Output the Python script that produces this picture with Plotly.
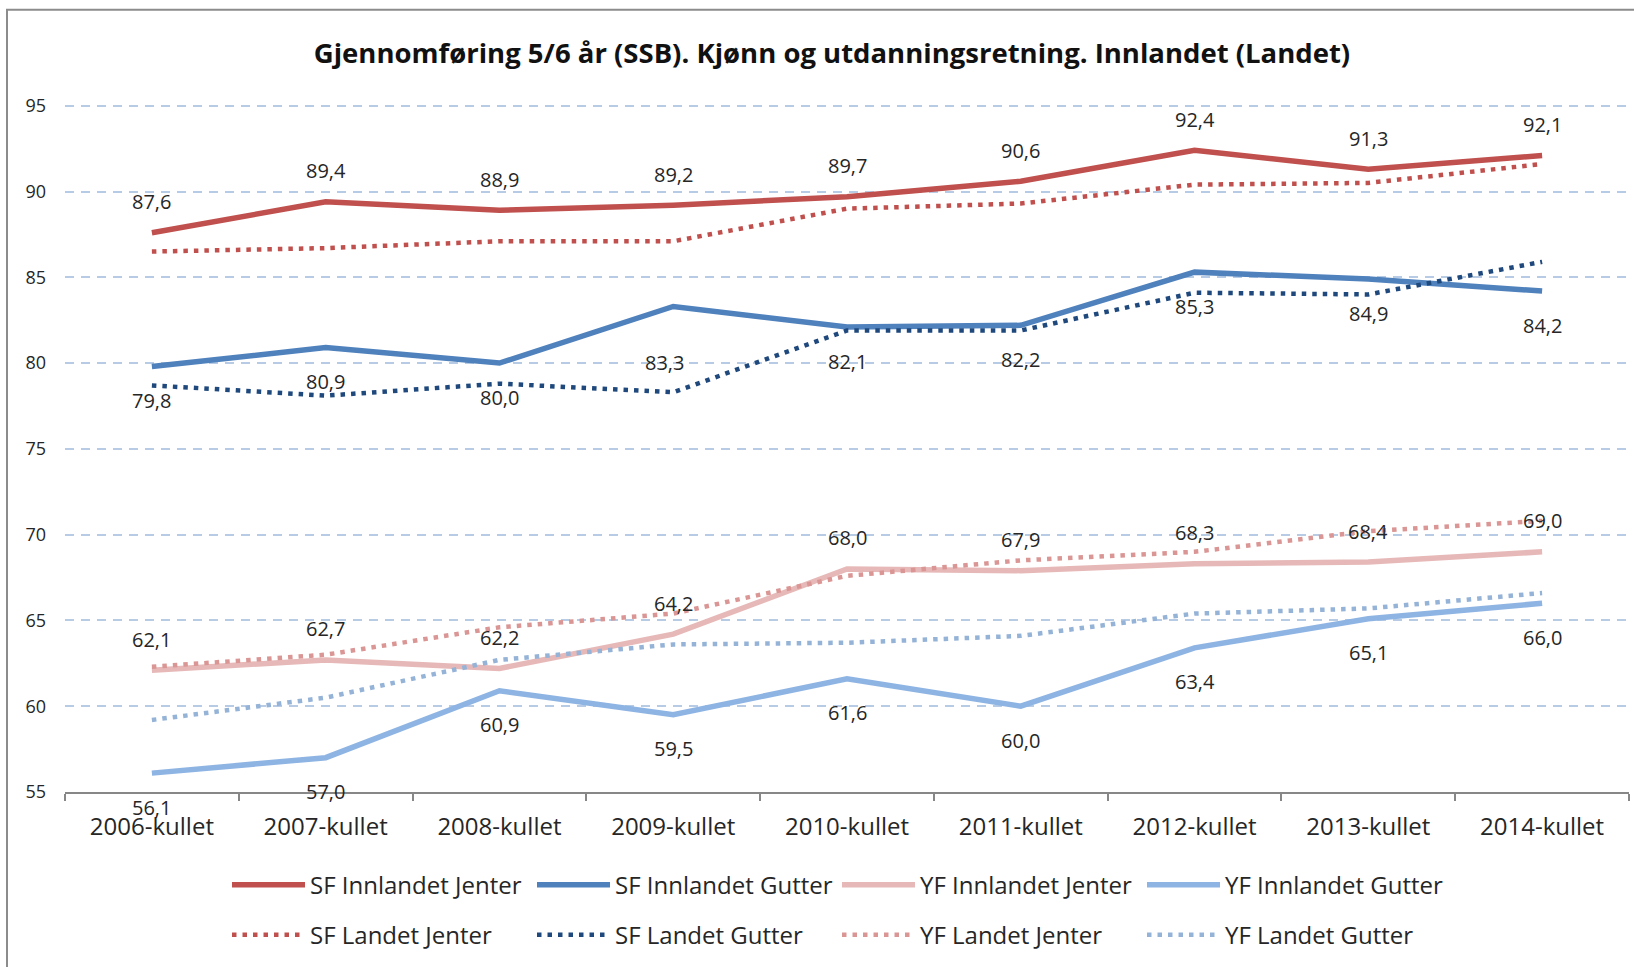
import plotly.graph_objects as go

categories = ["2006-kullet", "2007-kullet", "2008-kullet", "2009-kullet", "2010-kullet",
              "2011-kullet", "2012-kullet", "2013-kullet", "2014-kullet"]

sf_innlandet_jenter = [87.6, 89.4, 88.9, 89.2, 89.7, 90.6, 92.4, 91.3, 92.1]
sf_innlandet_gutter = [79.8, 80.9, 80.0, 83.3, 82.1, 82.2, 85.3, 84.9, 84.2]
yf_innlandet_jenter = [62.1, 62.7, 62.2, 64.2, 68.0, 67.9, 68.3, 68.4, 69.0]
yf_innlandet_gutter = [56.1, 57.0, 60.9, 59.5, 61.6, 60.0, 63.4, 65.1, 66.0]
sf_landet_jenter = [86.5, 86.7, 87.1, 87.1, 89.0, 89.3, 90.4, 90.5, 91.6]
sf_landet_gutter = [78.7, 78.1, 78.8, 78.3, 81.9, 81.9, 84.1, 84.0, 85.9]
yf_landet_jenter = [62.3, 63.0, 64.6, 65.4, 67.6, 68.5, 69.0, 70.2, 70.8]
yf_landet_gutter = [59.2, 60.5, 62.7, 63.6, 63.7, 64.1, 65.4, 65.7, 66.6]

title_text = "Gjennomføring 5/6 år (SSB). Kjønn og utdanningsretning. Innlandet (Landet)"
y_ticks = [55, 60, 65, 70, 75, 80, 85, 90, 95]
y_min, y_max = 55, 95.1

FONT = "Open Sans"
TXT = "#262626"

# Plot-area geometry (px)
W, H = 1634, 967
ML, MR, MB = 65, 5, 175
PX_PER_UNIT = 686 / 40.0
PH = (y_max - y_min) * PX_PER_UNIT
MT = H - MB - PH
PW = W - ML - MR


def px_x(px):
    return (px - ML) / PW


def px_y(py):
    return (H - MB - py) / PH


series = [
    ("SF Innlandet Jenter", sf_innlandet_jenter, "#C0504D", "solid", 5.5, "legend"),
    ("SF Innlandet Gutter", sf_innlandet_gutter, "#4F81BD", "solid", 5.5, "legend"),
    ("YF Innlandet Jenter", yf_innlandet_jenter, "#E6B9B8", "solid", 5.5, "legend"),
    ("YF Innlandet Gutter", yf_innlandet_gutter, "#8EB4E3", "solid", 5.5, "legend"),
    ("SF Landet Jenter", sf_landet_jenter, "#C0504D", "4.5px,6px", 4.5, "legend2"),
    ("SF Landet Gutter", sf_landet_gutter, "#1F497D", "4.5px,6px", 4.5, "legend2"),
    ("YF Landet Jenter", yf_landet_jenter, "#DA9694", "4.5px,6px", 4.5, "legend2"),
    ("YF Landet Gutter", yf_landet_gutter, "#95B3D7", "4.5px,6px", 4.5, "legend2"),
]

fig = go.Figure()
for name, vals, color, dash, width, leg in series:
    fig.add_trace(go.Scatter(
        x=categories, y=vals, name=name, mode="lines",
        line=dict(color=color, width=width, dash=dash),
        legend=leg, hoverinfo="skip",
    ))

# Data labels (Innlandet series): pixel offsets per point
label_specs = [
    (sf_innlandet_jenter, [31] * 9, [0] * 9),
    (sf_innlandet_gutter, [-34, -34, -34, -56, -34, -34, -34, -34, -34], [0, 0, 0, -9, 0, 0, 0, 0, 0]),
    (yf_innlandet_jenter, [31] * 9, [0] * 9),
    (yf_innlandet_gutter, [-34] * 9, [0] * 9),
]
annotations = []
for vals, yshifts, xshifts in label_specs:
    for c, v, ys, xs in zip(categories, vals, yshifts, xshifts):
        annotations.append(dict(
            x=c, y=v, xref="x", yref="y", text=f"{v:.1f}".replace(".", ","),
            showarrow=False, yshift=ys, xshift=xs,
            font=dict(family=FONT, size=20, color=TXT),
        ))

legend_common = dict(
    orientation="h", xanchor="left", yanchor="middle",
    font=dict(family=FONT, size=24, color=TXT), itemwidth=73,
    entrywidth=217, entrywidthmode="pixels", bgcolor="rgba(0,0,0,0)",
    borderwidth=0, traceorder="normal",
)

fig.update_layout(
    width=W, height=H,
    margin=dict(l=ML, r=MR, t=MT, b=MB, pad=0),
    paper_bgcolor="white", plot_bgcolor="white",
    font=dict(family=FONT, color=TXT),
    title=dict(
        text=title_text, x=832 / W, xref="container", xanchor="center",
        y=1 - 53 / H, yanchor="middle", yref="container",
        font=dict(family=FONT, size=27.5, color="#111111", weight="bold"),
    ),
    xaxis=dict(
        type="category", categoryorder="array", categoryarray=categories,
        range=[-0.5, 8.5], tickson="boundaries", ticks="outside",
        ticklen=7, tickwidth=2, tickcolor="#878787",
        showline=True, linecolor="#878787", linewidth=2,
        showgrid=False, zeroline=False,
        tickfont=dict(family=FONT, size=24, color=TXT),
        ticklabelstandoff=12,
    ),
    yaxis=dict(
        range=[y_min, y_max], tickvals=y_ticks, ticktext=[str(t) for t in y_ticks],
        ticks="", showline=False, zeroline=False,
        showgrid=True, gridcolor="#B7CCE4", gridwidth=2, griddash="9px,7px",
        tickfont=dict(family=FONT, size=18, color=TXT),
        ticklabelstandoff=18,
    ),
    legend=dict(x=px_x(227), y=px_y(885), **legend_common),
    legend2=dict(x=px_x(227), y=px_y(935), **legend_common),
    annotations=annotations,
    shapes=[dict(
        type="rect", xref="paper", yref="paper",
        x0=px_x(7), x1=px_x(1645), y0=px_y(980), y1=px_y(10),
        line=dict(color="#8C8C8C", width=2), fillcolor="rgba(0,0,0,0)", layer="below",
    )],
)

fig.write_html("out.html", config={"displayModeBar": False},
               post_script="document.body.style.margin='0px';")
